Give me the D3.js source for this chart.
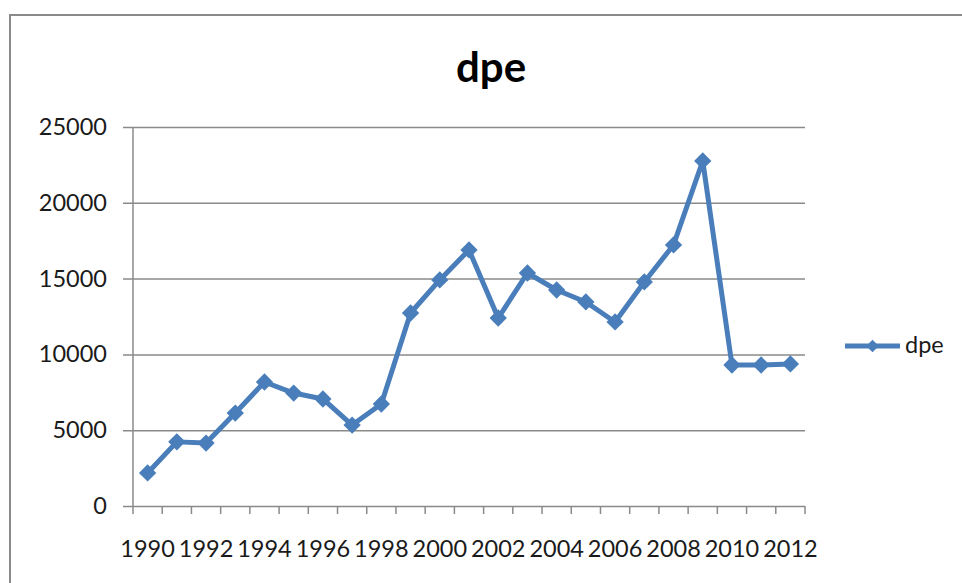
<!DOCTYPE html>
<head>
    <title>dpe</title>
    <meta charset="utf-8">
    <script src="https://d3js.org/d3.v7.min.js"></script>

    <style>
        body {
            margin: 0;
            background: white;
        }
        text {
            font-family: Lato, "Open Sans", sans-serif;
            fill: #1a1a1a;
        }
    </style>
</head>

<body>
    <div id="chart"></div>

    <script>

        // data
        var years = ['1990','1991','1992','1993','1994','1995','1996','1997','1998','1999','2000','2001',
                     '2002','2003','2004','2005','2006','2007','2008','2009','2010','2011','2012'];
        var dpe = [2180, 4230, 4150, 6130, 8180, 7450, 7060, 5340, 6730, 12730, 14910, 16890,
                   12400, 15370, 14250, 13460, 12140, 14780, 17220, 22760, 9300, 9300, 9370];
        var yTicks = [0, 5000, 10000, 15000, 20000, 25000];
        var seriesName = 'dpe';
        var chartTitle = 'dpe';

        // dimensions
        var svgWidth = 962;
        var svgHeight = 583;
        var plot = {left: 133, right: 805, top: 127, bottom: 506};

        var lineColor = '#4a7ebb';
        var gridColor = '#8a8a8a';

        var svg = d3.select('#chart').append('svg')
                    .attr('width', svgWidth)
                    .attr('height', svgHeight)
                    .style('display', 'block');

        // chart area border (runs off the right and bottom edge)
        svg.append('rect')
            .attr('x', 10)
            .attr('y', 15)
            .attr('width', 1200)
            .attr('height', 1200)
            .style('fill', 'white')
            .style('stroke', gridColor)
            .style('stroke-width', 2);

        // scales
        var x = d3.scaleBand()
            .domain(years)
            .range([plot.left, plot.right]);

        var y = d3.scaleLinear()
            .domain([0, 25000])
            .range([plot.bottom, plot.top]);

        // horizontal gridlines + y labels (axis hung on the right edge, lines run left)
        var yAxis = d3.axisLeft(y)
            .tickValues(yTicks)
            .tickSize((plot.right - plot.left) + 10)
            .tickPadding(16)
            .tickFormat(d3.format('d'));

        var yAxisGroup = svg.append('g')
            .attr('transform', `translate(${plot.right}, 0)`)
            .call(yAxis);

        yAxisGroup.select('.domain').remove();
        yAxisGroup.selectAll('.tick line')
            .style('stroke', gridColor)
            .style('stroke-width', 1.5);
        yAxisGroup.selectAll('.tick text')
            .style('font-size', '23.5px')
            .style('font-family', 'Lato, sans-serif')
            .style('fill', '#1a1a1a');

        // vertical axis line
        svg.append('line')
            .attr('x1', plot.left)
            .attr('x2', plot.left)
            .attr('y1', plot.top)
            .attr('y2', plot.bottom)
            .style('stroke', gridColor)
            .style('stroke-width', 1.5);

        // x axis: ticks between categories, label every second year
        var boundaries = years.map(d => x(d)).concat([plot.right]);

        svg.append('g')
            .selectAll('line')
            .data(boundaries)
            .enter()
                .append('line')
                    .attr('x1', d => d)
                    .attr('x2', d => d)
                    .attr('y1', plot.bottom)
                    .attr('y2', plot.bottom + 8)
                    .style('stroke', gridColor)
                    .style('stroke-width', 1.5);

        svg.append('g')
            .selectAll('text')
            .data(years.filter((d, i) => i % 2 === 0))
            .enter()
                .append('text')
                    .attr('x', d => x(d) + x.bandwidth() / 2)
                    .attr('y', 557)
                    .style('text-anchor', 'middle')
                    .style('font-size', '23.5px')
                    .text(d => d);

        // series line
        var points = years.map((d, i) => ({year: d, value: dpe[i]}));

        var lineGen = d3.line()
            .x(d => x(d.year) + x.bandwidth() / 2)
            .y(d => y(d.value));

        svg.append('path')
            .datum(points)
            .attr('d', lineGen)
            .style('fill', 'none')
            .style('stroke', lineColor)
            .style('stroke-width', 5)
            .style('stroke-linejoin', 'round');

        // diamond markers
        var diamond = d3.symbol().type(d3.symbolSquare).size(150);

        svg.append('g')
            .selectAll('path')
            .data(points)
            .enter()
                .append('path')
                    .attr('d', diamond)
                    .attr('transform', d => `translate(${x(d.year) + x.bandwidth() / 2}, ${y(d.value)}) rotate(45)`)
                    .style('fill', lineColor);

        // title
        svg.append('text')
            .attr('x', 491)
            .attr('y', 82)
            .style('text-anchor', 'middle')
            .style('font-size', '42px')
            .style('font-weight', 'bold')
            .style('fill', 'black')
            .text(chartTitle);

        // legend
        var legendGroup = svg.append('g')
            .attr('transform', 'translate(845, 346)');

        legendGroup.append('line')
            .attr('x1', 0)
            .attr('x2', 55)
            .style('stroke', lineColor)
            .style('stroke-width', 5);

        legendGroup.append('path')
            .attr('d', d3.symbol().type(d3.symbolSquare).size(80))
            .attr('transform', 'translate(27.5, 0) rotate(45)')
            .style('fill', lineColor);

        legendGroup.append('text')
            .attr('x', 60)
            .attr('y', 7)
            .style('font-size', '23.5px')
            .text(seriesName);

    </script>

</body>

</html>
